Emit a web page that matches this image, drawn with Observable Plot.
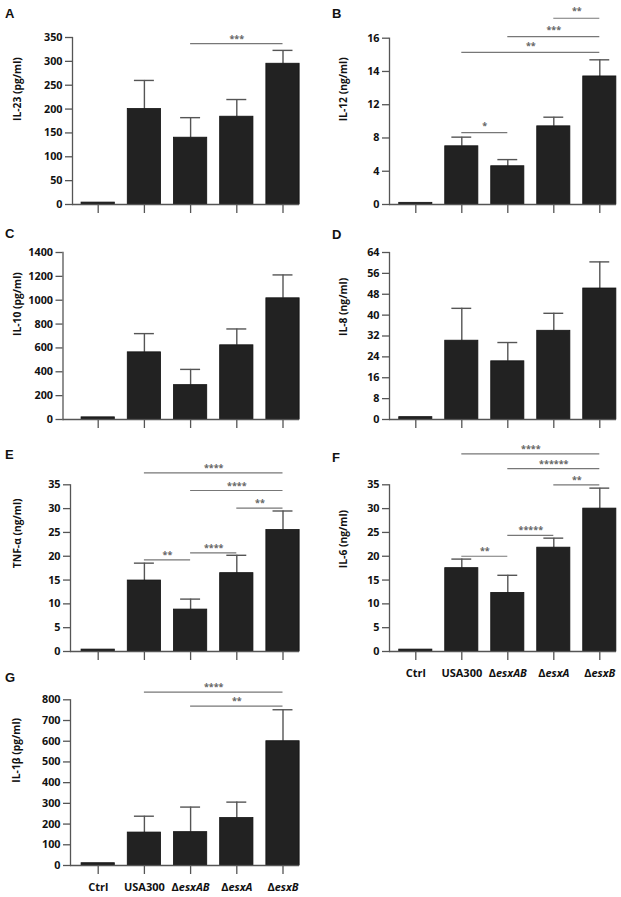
<!DOCTYPE html>
<html><head><meta charset="utf-8">
<script src="https://cdn.jsdelivr.net/npm/d3@7"></script>
<script src="https://cdn.jsdelivr.net/npm/@observablehq/plot@0.6"></script>
<style>
body{margin:0;background:#fff;}
#root{position:relative;width:621px;height:897px;overflow:hidden;background:#fff;}
.letter{position:absolute;font-family:"Liberation Sans",Arial,sans-serif;font-weight:700;font-size:13px;line-height:1;color:#111;}
</style></head><body><div id="root"></div>
<script>
const categories = ["Ctrl", "USA300", "ΔesxAB", "ΔesxA", "ΔesxB"];

// A: IL-23 (pg/ml)
const il23Mean  = [4, 200, 140, 184, 295];
const il23Upper = [4, 260, 182, 220, 323];
const il23Ticks = [0, 50, 100, 150, 200, 250, 300, 350];
const il23Sig   = [["ΔesxAB", "ΔesxB", 337, "***"]];

// B: IL-12 (ng/ml) — axis labelled 0,4,8,12,14,16 at equal spacing
const il12Mean  = [0.2, 7.0, 4.6, 9.4, 13.7];
const il12Upper = [0.2, 8.1, 5.4, 10.5, 14.7];
const il12Ticks = [0, 4, 8, 12, 14, 16];
const il12Sig   = [["USA300", "ΔesxAB", 8.64, "*"], ["USA300", "ΔesxB", 15.15, "**"],
                   ["ΔesxAB", "ΔesxB", 16.1, "***"], ["ΔesxA", "ΔesxB", 17.2, "**"]];

// C: IL-10 (pg/ml)
const il10Mean  = [18, 563, 288, 622, 1016];
const il10Upper = [18, 720, 420, 759, 1212];
const il10Ticks = [0, 200, 400, 600, 800, 1000, 1200, 1400];

// D: IL-8 (ng/ml)
const il8Mean  = [0.9, 30.2, 22.3, 34.0, 50.2];
const il8Upper = [0.9, 42.6, 29.5, 40.7, 60.4];
const il8Ticks = [0, 8, 16, 24, 32, 40, 48, 56, 64];

// E: TNF-α (ng/ml)
const tnfMean  = [0.4, 14.9, 8.8, 16.45, 25.5];
const tnfUpper = [0.4, 18.55, 11.0, 20.2, 29.5];
const tnfTicks = [0, 5, 10, 15, 20, 25, 30, 35];
const tnfSig   = [["USA300", "ΔesxAB", 19.25, "**"], ["ΔesxAB", "ΔesxA", 20.7, "****"],
                  ["ΔesxA", "ΔesxB", 30.1, "**"], ["ΔesxAB", "ΔesxB", 33.8, "****"],
                  ["USA300", "ΔesxB", 37.5, "****"]];

// F: IL-6 (ng/ml)
const il6Mean  = [0.4, 17.5, 12.3, 21.8, 30.0];
const il6Upper = [0.4, 19.4, 16.0, 23.8, 34.3];
const il6Ticks = [0, 5, 10, 15, 20, 25, 30, 35];
const il6Sig   = [["USA300", "ΔesxAB", 20.0, "**"], ["ΔesxAB", "ΔesxA", 24.4, "*****"],
                  ["ΔesxA", "ΔesxB", 35.0, "**"], ["ΔesxAB", "ΔesxB", 38.4, "******"],
                  ["USA300", "ΔesxB", 41.5, "****"]];

// G: IL-1β (pg/ml)
const il1bMean  = [11, 159, 161, 229, 600];
const il1bUpper = [11, 238, 282, 306, 752];
const il1bTicks = [0, 100, 200, 300, 400, 500, 600, 700, 800];
const il1bSig   = [["USA300", "ΔesxB", 837, "****"], ["ΔesxAB", "ΔesxB", 769, "**"]];

const root = document.getElementById("root");
const AX = "#555", INK = "#111";

function italicize(svg) {
  svg.querySelectorAll("text").forEach(t => {
    const target = t.querySelector("tspan") || t;
    const s = target.textContent;
    if (s.startsWith("Δ") && s.length > 1) {
      target.textContent = "Δ";
      const ts = document.createElementNS("http://www.w3.org/2000/svg", "tspan");
      ts.setAttribute("font-style", "italic");
      ts.textContent = s.slice(1);
      target.appendChild(ts);
    }
  });
}

function panel(o) {
  const idx = c => categories.indexOf(c);
  const rows = categories.map((c, i) => ({i, m: o.mean[i], u: o.upper[i]}));
  const errs = rows.filter(d => d.u > d.m);
  const sig = (o.sig || []).map(([a, b, y, s]) => ({a: idx(a), b: idx(b), y, s}));
  const y0 = o.height - o.mBottom;
  const yOpt = o.piecewise
    ? {type: "linear", domain: [0, 12, 16], range: [y0, y0 - 3 * (y0 - o.mTop) / 5, o.mTop]}
    : {type: "linear", domain: [0, o.ticks[o.ticks.length - 1]]};
  const svg = Plot.plot({
    width: o.width, height: o.height,
    marginTop: o.mTop, marginBottom: o.mBottom, marginLeft: o.axisX, marginRight: o.width - o.rightEnd,
    x: {type: "linear", domain: [-0.5, 4.5], range: [o.c0 - o.step / 2, o.c0 + 4.5 * o.step]},
    y: yOpt,
    style: {fontFamily: "'Open Sans', sans-serif", fontSize: "10px", fontWeight: 700, overflow: "visible", background: "transparent"},
    marks: [
      Plot.ruleX(errs, {x: "i", y1: "m", y2: "u", stroke: AX, strokeWidth: 1.4}),
      Plot.ruleY(errs, {x1: d => d.i - 0.216, x2: d => d.i + 0.216, y: "u", stroke: AX, strokeWidth: 1.4}),
      Plot.rectY(rows, {x1: d => d.i - 0.36, x2: d => d.i + 0.36, y: "m", fill: "#222", stroke: "#111", strokeWidth: 0.8}),
      Plot.ruleY([0], {stroke: AX, strokeWidth: 1.3}),
      Plot.frame({anchor: "left", stroke: AX, strokeWidth: 1.3}),
      Plot.axisY({ticks: o.ticks, tickFormat: d => String(d), tickSize: 7, tickPadding: 3, stroke: AX, strokeWidth: 1.3,
                  fill: INK, fontWeight: 700, fontSize: 10.8, label: null}),
      Plot.axisX({ticks: [0, 1, 2, 3, 4], tickSize: 9, tickPadding: 9, stroke: AX, strokeWidth: 1.3, fill: INK,
                  fontWeight: 700, fontSize: 11, label: null,
                  tickFormat: o.xLabels ? (i => categories[i]) : (() => "")}),
      Plot.text([o.label], {frameAnchor: "left", dx: o.labelX - o.axisX, rotate: -90, fontWeight: 700, fontSize: 10.3, fill: INK}),
      Plot.ruleY(sig, {x1: "a", x2: "b", y: "y", stroke: "#777", strokeWidth: 1.2}),
      Plot.text(sig, {x: d => (d.a + d.b) / 2, y: "y", text: "s", dy: o.starDy, fontSize: 9, fontWeight: 700, fill: "#666"})
    ]
  });
  svg.style.position = "absolute";
  svg.style.left = o.left + "px";
  svg.style.top = o.top + "px";
  italicize(svg);
  root.appendChild(svg);
  const L = document.createElement("div");
  L.className = "letter";
  L.textContent = o.letter;
  L.style.left = o.letterX + "px";
  L.style.top = (o.letterY - 1.7) + "px";
  root.appendChild(L);
}

const leftCol = {left: 0, width: 310, rightEnd: 299, c0: 97.7, step: 46.2, labelX: 17, letterX: 5, starDy: -4.8};
const rightCol = {left: 310, width: 311, rightEnd: 306, c0: 105.3, step: 46, labelX: 33, axisX: 79, letterX: 332, starDy: -4.8};

panel({...leftCol, letter: "A", letterY: 8.3, top: 0, height: 220, mTop: 37, mBottom: 16, axisX: 72,
       mean: il23Mean, upper: il23Upper, ticks: il23Ticks, sig: il23Sig, label: "IL-23 (pg/ml)"});
panel({...rightCol, letter: "B", letterY: 8.3, top: 0, height: 220, mTop: 37.7, mBottom: 16, piecewise: true, starDy: -6.7,
       mean: il12Mean, upper: il12Upper, ticks: il12Ticks, sig: il12Sig, label: "IL-12 (ng/ml)"});
panel({...leftCol, letter: "C", letterY: 228.3, top: 220, height: 220, mTop: 32, mBottom: 21, axisX: 62.5,
       mean: il10Mean, upper: il10Upper, ticks: il10Ticks, label: "IL-10 (pg/ml)"});
panel({...rightCol, letter: "D", letterY: 230, top: 220, height: 220, mTop: 32, mBottom: 21,
       mean: il8Mean, upper: il8Upper, ticks: il8Ticks, label: "IL-8 (ng/ml)"});
panel({...leftCol, letter: "E", letterY: 450, top: 440, height: 230, mTop: 44.3, mBottom: 19, axisX: 70,
       mean: tnfMean, upper: tnfUpper, ticks: tnfTicks, sig: tnfSig, label: "TNF-α (ng/ml)"});
panel({...rightCol, letter: "F", letterY: 453, top: 440, height: 260, mTop: 44.3, mBottom: 49, xLabels: true,
       mean: il6Mean, upper: il6Upper, ticks: il6Ticks, sig: il6Sig, label: "IL-6 (ng/ml)"});
panel({...leftCol, letter: "G", letterY: 673, top: 670, height: 227, mTop: 29.3, mBottom: 32, axisX: 70, labelX: 16, xLabels: true,
       mean: il1bMean, upper: il1bUpper, ticks: il1bTicks, sig: il1bSig, label: "IL-1β (pg/ml)"});
</script></body></html>
